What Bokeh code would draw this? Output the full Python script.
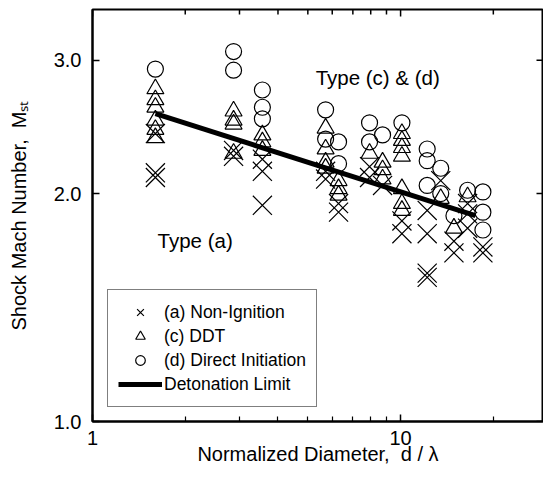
import math
from bokeh.plotting import figure
from bokeh.models import (FixedTicker, PrintfTickFormatter, Label,
                          Legend, LegendItem, Range1d)
from bokeh.embed import file_html
from bokeh.resources import INLINE

# ---- data ----
# (a) Non-Ignition
nonig_x = [1.6, 1.6, 1.6, 2.87, 2.87, 3.56, 3.56, 3.56, 5.71, 5.71, 6.29, 6.29,
           7.93, 7.93, 8.74, 10.1, 10.1, 12.2, 12.2, 12.2, 12.2, 13.5, 14.9, 14.9,
           16.5, 16.5, 16.5, 18.5, 18.5]
nonig_y = [2.40, 2.13, 2.10, 2.28, 2.24, 2.22, 2.14, 1.93, 2.14, 2.09, 1.94, 1.89,
           2.17, 2.10, 2.05, 1.84, 1.77, 1.90, 1.77, 1.57, 1.55, 2.08, 1.73, 1.67,
           1.94, 1.88, 1.80, 1.70, 1.67]
# (c) DDT
ddt_x = [1.6, 1.6, 1.6, 1.6, 1.6, 1.6, 2.87, 2.87, 2.87, 2.87, 3.56, 3.56, 3.56,
         5.71, 5.71, 5.71, 5.71, 6.29, 6.29, 6.29, 7.93, 8.74, 8.74, 8.74,
         10.1, 10.1, 10.1, 10.1, 10.1, 10.1, 10.1, 13.5, 14.9, 16.5]
ddt_y = [2.75, 2.66, 2.60, 2.50, 2.43, 2.37, 2.57, 2.50, 2.47, 2.26, 2.39, 2.34, 2.28,
         2.44, 2.29, 2.20, 2.16, 2.08, 2.03, 1.99, 2.26, 2.20, 2.15, 2.09,
         2.40, 2.35, 2.30, 2.24, 2.03, 1.94, 1.90, 1.97, 1.80, 1.98]
# (d) Direct Initiation
di_x = [1.6, 2.87, 2.87, 3.56, 3.56, 3.56, 5.71, 5.71, 6.29, 6.29, 7.93, 7.93,
        8.74, 10.1, 12.2, 12.2, 12.2, 13.5, 13.5, 14.9, 16.5, 18.5, 18.5, 18.5]
di_y = [2.92, 3.08, 2.91, 2.74, 2.60, 2.51, 2.58, 2.36, 2.34, 2.19, 2.48, 2.34,
        2.39, 2.48, 2.29, 2.21, 2.05, 2.16, 2.00, 1.87, 2.02, 2.01, 1.89, 1.79]
# Detonation limit
limit_x = [1.6, 17.5]
limit_y = [2.55, 1.87]

x_major = [1, 10]
x_minor = [2, 3, 4, 5, 6, 7, 8, 9, 20]
y_major = [1, 2, 3]
x_lim = [1, 29.1]
y_lim = [1, 3.5]

x_title = "Normalized Diameter,\u00a0\u00a0d / λ"
y_title = "Shock Mach Number,\u00a0\u00a0Mₛₜ"

region_labels = ["Type (c) & (d)", "Type (a)"]
region_x = [5.30, 1.626]
region_y = [2.85, 1.735]

legend_labels = ["(a) Non-Ignition", "(c) DDT", "(d) Direct Initiation", "Detonation Limit"]

FONT = "Liberation Sans"

p = figure(frame_width=451, frame_height=412, x_axis_type="log", y_axis_type="log",
           x_range=Range1d(*x_lim), y_range=Range1d(*y_lim),
           output_backend="svg", toolbar_location=None,
           min_border_left=92, min_border_right=0, min_border_top=9,
           min_border_bottom=58)
p.background_fill_color = "white"
p.border_fill_color = "white"
p.outline_line_color = "black"
p.outline_line_width = 2
p.xgrid.visible = False
p.ygrid.visible = False

def style_axis(ax, ticks, minor, fmt):
    ax.ticker = FixedTicker(ticks=ticks, minor_ticks=minor)
    ax.axis_line_color = "black"
    ax.axis_line_width = 2
    ax.major_tick_in = 7
    ax.major_tick_out = 0
    ax.minor_tick_in = 5
    ax.minor_tick_out = 0
    ax.major_tick_line_width = 1.5
    ax.minor_tick_line_width = 1.2
    ax.major_tick_line_color = "black"
    ax.minor_tick_line_color = "black"
    ax.formatter = PrintfTickFormatter(format=fmt)
    ax.major_label_text_font = FONT
    ax.major_label_text_font_size = "20px"
    ax.major_label_text_color = "black"
    ax.axis_label_text_font = FONT
    ax.axis_label_text_font_size = "20px"
    ax.axis_label_text_font_style = "normal"
    ax.axis_label_text_color = "black"

xa = p.xaxis[0]
style_axis(xa, x_major, x_minor, "%d")
xa.major_label_standoff = 9
xa.axis_label = x_title
xa.axis_label_standoff = -5
ya = p.yaxis[0]
style_axis(ya, y_major, [], "%.1f")
ya.major_label_standoff = 11
ya.axis_label = y_title
ya.axis_label_standoff = 21

# inward ticks on the top and right frame edges (half of each dash is clipped)
top_x = x_major + x_minor
top_size = [14] * len(x_major) + [10] * len(x_minor)
p.scatter(top_x, [y_lim[1]] * len(top_x), marker="dash", angle=math.pi / 2,
          size=top_size, line_color="black", line_width=1.5)
p.scatter([x_lim[1]] * len(y_major), y_major, marker="dash", size=14,
          line_color="black", line_width=1.5)

r_x = p.scatter(nonig_x, nonig_y, marker="x", size=27, line_color="black", line_width=1.2)
r_t = p.scatter(ddt_x, ddt_y, marker="triangle", size=17, fill_color=None,
                line_color="black", line_width=1.2)
r_c = p.scatter(di_x, di_y, marker="circle", size=16, fill_color=None,
                line_color="black", line_width=1.2)
r_l = p.line(limit_x, limit_y, line_color="black", line_width=5)

for t, x, y in zip(region_labels, region_x, region_y):
    p.add_layout(Label(x=x, y=y, text=t, text_font=FONT, text_font_size="20.5px",
                       text_color="black", text_align="left", text_baseline="alphabetic"))

legend = Legend(items=[LegendItem(label=legend_labels[0], renderers=[r_x]),
                       LegendItem(label=legend_labels[1], renderers=[r_t]),
                       LegendItem(label=legend_labels[2], renderers=[r_c]),
                       LegendItem(label=legend_labels[3], renderers=[r_l])],
                location=(15, 14))
legend.label_text_font = FONT
legend.label_text_font_size = "17.5px"
legend.label_text_color = "black"
legend.border_line_color = "black"
legend.border_line_width = 1.5
legend.background_fill_color = "white"
legend.background_fill_alpha = 1
legend.padding = 10
legend.spacing = 0
legend.label_height = 20
legend.glyph_height = 24
legend.glyph_width = 44
legend.label_standoff = 2
legend.margin = 0
p.add_layout(legend, "center")

open("out.html", "w").write(file_html(p, INLINE))
